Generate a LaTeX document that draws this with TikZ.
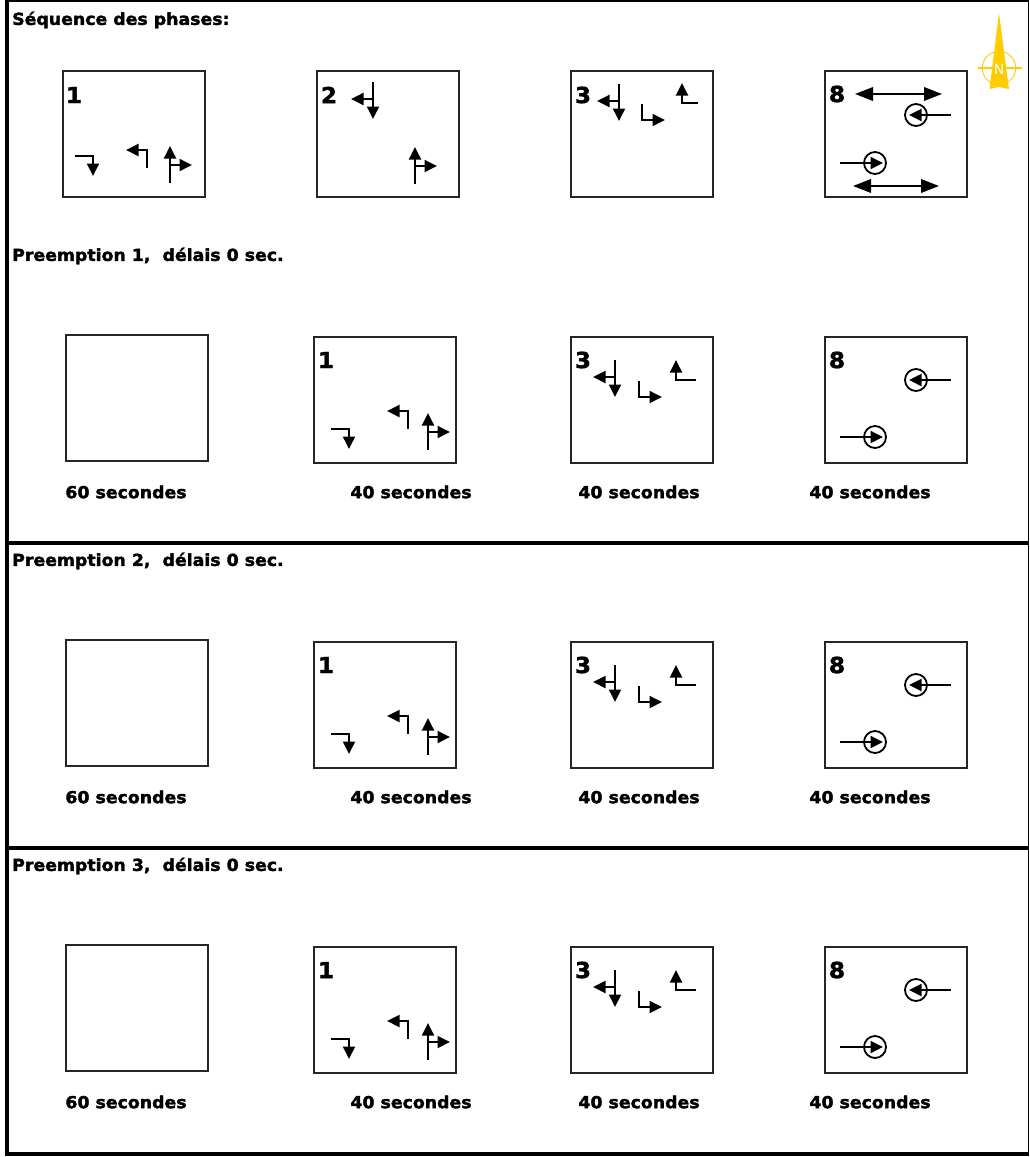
\documentclass[tikz,border=0pt]{standalone}
\usepackage{fontspec}
\usepackage{xcolor}
\setmainfont{DejaVu Sans}[BoldFeatures={FakeStretch=1.05,FakeBold=2}]
\usetikzlibrary{arrows.meta, positioning}
\definecolor{compassgold}{HTML}{FFCC00}
\tikzset{
  phasebox/.style={draw=black!85, line width=1.7pt},
  flowline/.style={line width=1.9pt, -{Triangle[length=12.5pt,width=12pt]}},
  walkline/.style={line width=1.9pt, {Triangle[length=18pt,width=13.5pt]}-{Triangle[length=18pt,width=13.5pt]}},
  heading/.style={anchor=west, inner sep=0pt, font=\fontsize{16.5}{18}\selectfont\bfseries},
  duration/.style={anchor=center, inner sep=0pt, font=\fontsize{16.5}{18}\selectfont\bfseries},
  phasenum/.style={anchor=center, inner sep=0pt, font=\fontsize{22}{24}\selectfont\bfseries},
  pics/turnsouth/.style={code={\draw[flowline] (-18,0) -- (0,0) -- (0,20);}},
  pics/turnwest/.style={code={\draw[flowline] (0,18) -- (0,0) -- (-21,0);}},
  pics/turneast/.style={code={\draw[flowline] (0,-16) -- (0,0) -- (23,0);}},
  pics/turnnorth/.style={code={\draw[flowline] (20,0) -- (0,0) -- (0,-20);}},
  pics/thrunorth/.style={code={
    \draw[flowline] (0,18) -- (0,-19);
    \draw[flowline] (0,0) -- (22,0);}},
  pics/thrusouth/.style={code={
    \draw[flowline] (0,-17) -- (0,20);
    \draw[flowline] (0,0) -- (-22,0);}},
  pics/ringwest/.style={code={
    \draw[line width=1.8pt] (0,0) circle (11);
    \draw[flowline] (35,0) -- (-7,0);}},
  pics/ringeast/.style={code={
    \draw[line width=1.8pt] (0,0) circle (11);
    \draw[flowline] (-35,0) -- (8,0);}}
}
\begin{document}
\begin{tikzpicture}[x=1pt, y=-1pt]
  \useasboundingbox (0,0) rectangle (1029,1157);
  % frame
  \fill (5,0) rectangle (1029,2);
  \fill (5,0) rectangle (9,1156);
  \fill (1027.5,0) rectangle (1029,1156);
  \fill (5,1152) rectangle (1029,1156);
  \fill (5,541) rectangle (1029,545);
  \fill (5,846) rectangle (1029,850);
  % compass
  \draw[compassgold, line width=0.9pt] (999,68) circle (16.7);
  \draw[compassgold, line width=1.1pt] (978,68) -- (1022,68);
  \fill[compassgold] (999,13) -- (1009,89) -- (999,87) -- (989.5,89) -- cycle;
  \node[text=white, inner sep=0pt, font=\fontsize{14}{15}\selectfont] (north) at (999,69) {N};
  % sequence
  \node[heading] (seqtitle) at (12,20) {Séquence des phases:};
  \draw[phasebox] (63,71) rectangle (205,197);
  \node[phasenum] (seqa) at (74,95) {1};
  \pic at (93,156) {turnsouth};
  \pic at (147,150) {turnwest};
  \pic at (170,165) {thrunorth};
  \draw[phasebox] (317,71) rectangle (459,197);
  \node[phasenum] (seqb) at (329,95) {2};
  \pic at (373,99) {thrusouth};
  \pic at (415,166) {thrunorth};
  \draw[phasebox] (571,71) rectangle (713,197);
  \node[phasenum] (seqc) at (583,95) {3};
  \pic at (619,101) {thrusouth};
  \pic at (642,120) {turneast};
  \draw[flowline] (698,103) -- (682,103) -- (682,83);
  \draw[phasebox] (825,71) rectangle (967,197);
  \node[phasenum] (seqd) at (837,94) {8};
  \draw[walkline] (855,94) -- (942,94);
  \draw[walkline] (853,186) -- (939,186);
  \pic at (916,115) {ringwest};
  \pic at (875,163) {ringeast};
  % preemptions
  \foreach \i/\r in {1/0,2/305,3/610} {
    \begin{scope}[yshift=-\r pt]
      \node[heading] (title\i) at (12,256) {Preemption \i,\ \ délais 0 sec.};
      \draw[phasebox] (66,335) rectangle (208,461);
      \draw[phasebox] (314,337) rectangle (456,463);
      \node[phasenum] (numa\i) at (326,360) {1};
      \pic at (349,429) {turnsouth};
      \pic at (408,411) {turnwest};
      \pic at (428,432) {thrunorth};
      \draw[phasebox] (571,337) rectangle (713,463);
      \node[phasenum] (numb\i) at (583,360) {3};
      \pic at (615,377) {thrusouth};
      \pic at (639,397) {turneast};
      \pic at (676,380) {turnnorth};
      \draw[phasebox] (825,337) rectangle (967,463);
      \node[phasenum] (numc\i) at (837,360) {8};
      \pic at (916,380) {ringwest};
      \pic at (875,437) {ringeast};
      \node[duration] (durA\i) at (126,492) {60 secondes};
      \node[duration] (durB\i) at (411,492) {40 secondes};
      \node[duration] (durC\i) at (639,492) {40 secondes};
      \node[duration] (durD\i) at (870,492) {40 secondes};
    \end{scope}
  }
\end{tikzpicture}
\end{document}
